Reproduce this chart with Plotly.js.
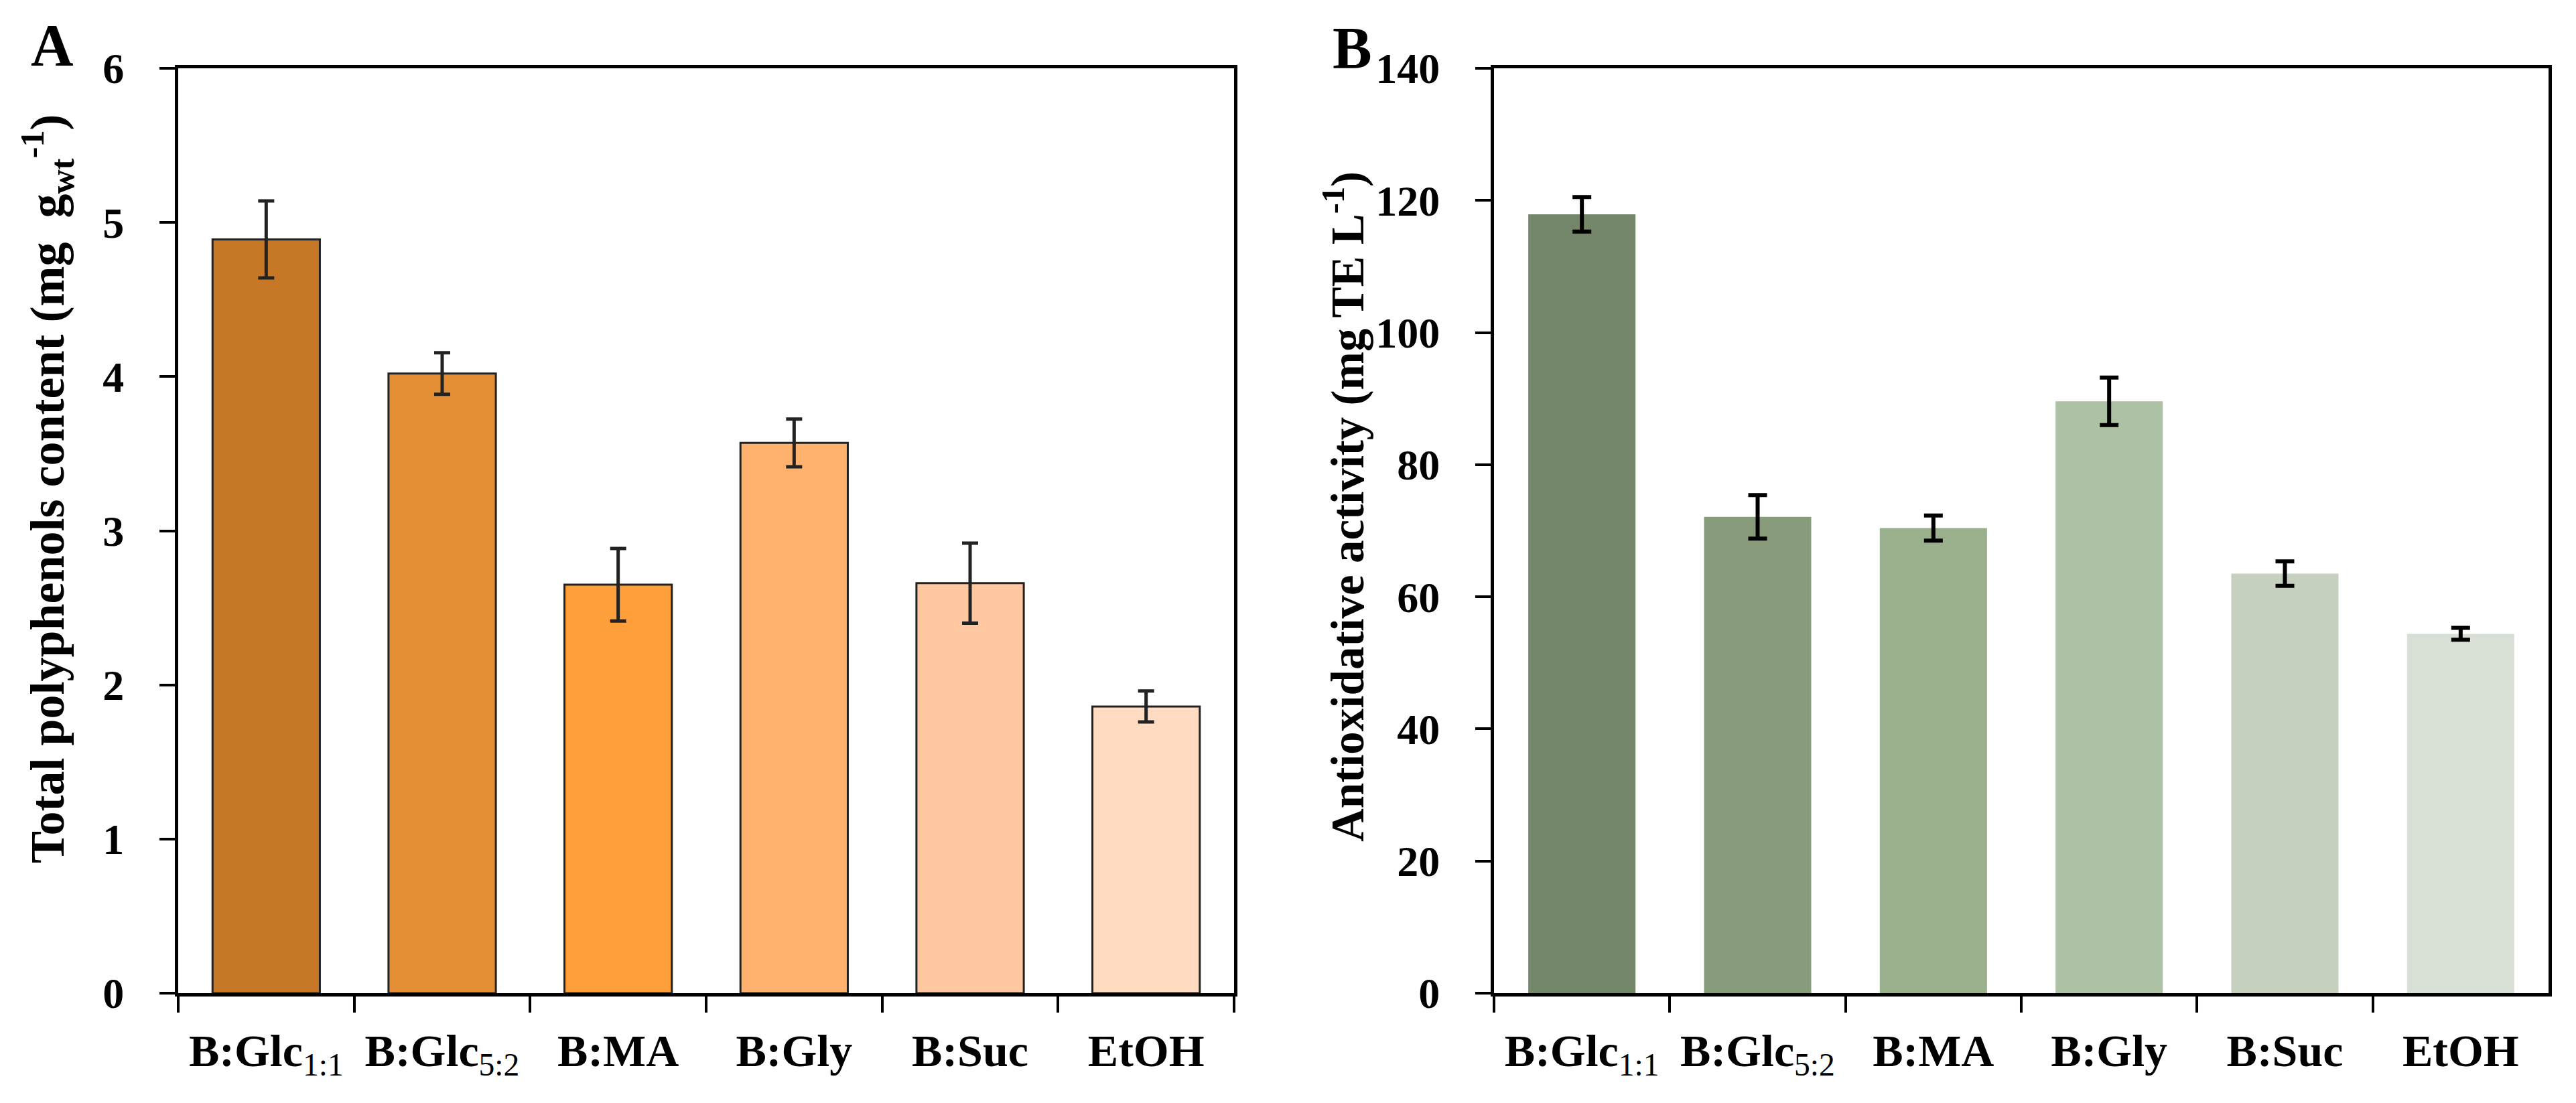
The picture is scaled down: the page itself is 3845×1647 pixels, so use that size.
<!DOCTYPE html>
<html>
<head>
<meta charset="utf-8">
<script src="https://cdn.plot.ly/plotly-3.0.1.min.js"></script>
<style>
  html, body { margin: 0; padding: 0; background: #fff; }
  #chart { width: 3845px; height: 1647px; }
</style>
</head>
<body>
<div id="chart"></div>
<script>
// categories shared by both panels
const categories = ["B:Glc 1:1", "B:Glc 5:2", "B:MA", "B:Gly", "B:Suc", "EtOH"];
const tickLabels = [
  "B:Glc<sub><span style='font-weight:normal'>1:1</span></sub>",
  "B:Glc<sub><span style='font-weight:normal'>5:2</span></sub>",
  "B:MA", "B:Gly", "B:Suc", "EtOH"
];

// panel A: total polyphenols content
const polyphenols = [4.89, 4.02, 2.65, 3.57, 2.66, 1.86];
const polyphenolsErr = [0.25, 0.135, 0.235, 0.155, 0.26, 0.10];
const colorsA = ["#C77826", "#E48F35", "#FF9F3C", "#FFB26D", "#FFC8A0", "#FFDBC2"];

// panel B: antioxidative activity
const antioxidative = [117.9, 72.1, 70.4, 89.6, 63.5, 54.4];
const antioxidativeErr = [2.6, 3.3, 1.9, 3.6, 1.85, 0.9];
const colorsB = ["#738669", "#889C7B", "#9AAF8B", "#ADC1A4", "#C5D1BE", "#D8E0D5"];

const FONT = "Liberation Serif, Times New Roman, serif";
const W = 3845, H = 1647;
const px = (x) => x / W;
const py = (y) => 1 - y / H;

const traces = [
  {
    type: "bar",
    x: categories,
    y: polyphenols,
    xaxis: "x",
    yaxis: "y",
    marker: { color: colorsA, line: { color: "#222", width: 3 } },
    error_y: { type: "data", array: polyphenolsErr, visible: true, color: "#222", thickness: 5, width: 12 },
    showlegend: false,
  },
  {
    type: "bar",
    x: categories,
    y: antioxidative,
    xaxis: "x2",
    yaxis: "y2",
    marker: { color: colorsB, line: { width: 0 } },
    error_y: { type: "data", array: antioxidativeErr, visible: true, color: "#000", thickness: 6, width: 14 },
    showlegend: false,
  },
];

const xBase = {
  type: "category",
  tickmode: "array",
  tickvals: categories,
  ticktext: tickLabels,
  tickson: "boundaries",
  ticks: "outside",
  ticklen: 24,
  tickwidth: 4,
  tickcolor: "#000",
  showline: true,
  linewidth: 5,
  linecolor: "#000",
  mirror: true,
  showgrid: false,
  zeroline: false,
  ticklabelstandoff: 22,
  tickfont: { family: FONT, size: 68, color: "#000", weight: "bold" },
  fixedrange: true,
};

const yBase = {
  ticks: "outside",
  ticklen: 23,
  tickwidth: 4,
  tickcolor: "#000",
  showline: true,
  linewidth: 5,
  linecolor: "#000",
  mirror: true,
  showgrid: false,
  zeroline: false,
  ticklabelstandoff: 40,
  tickfont: { family: FONT, size: 64, color: "#000", weight: "bold" },
  domain: [py(1483), py(102)],
  fixedrange: true,
};

const layout = {
  width: W,
  height: H,
  margin: { l: 0, r: 0, t: 0, b: 0 },
  paper_bgcolor: "#fff",
  plot_bgcolor: "#fff",
  bargap: 0.39,
  xaxis: { ...xBase, domain: [px(266), px(1842)], anchor: "y" },
  yaxis: { ...yBase, range: [0, 6], dtick: 1, anchor: "x" },
  xaxis2: { ...xBase, domain: [px(2230), px(3804)], anchor: "y2" },
  yaxis2: { ...yBase, range: [0, 140], dtick: 20, anchor: "x2" },
  annotations: [
    {
      text: "Total polyphenols content (mg  g<sub>wt</sub><sup>-1</sup>)",
      xref: "paper", yref: "paper", x: px(70), y: py(730),
      textangle: -90, showarrow: false, xanchor: "center", yanchor: "middle",
      font: { family: FONT, size: 72, color: "#000", weight: "bold" },
    },
    {
      text: "Antioxidative activity (mg TE L<sup>-1</sup>)",
      xref: "paper", yref: "paper", x: px(2006), y: py(757),
      textangle: -90, showarrow: false, xanchor: "center", yanchor: "middle",
      font: { family: FONT, size: 69, color: "#000", weight: "bold" },
    },
    {
      text: "A",
      xref: "paper", yref: "paper", x: px(78), y: py(67),
      showarrow: false, xanchor: "center", yanchor: "middle",
      font: { family: FONT, size: 88, color: "#000", weight: "bold" },
    },
    {
      text: "B",
      xref: "paper", yref: "paper", x: px(2018), y: py(71),
      showarrow: false, xanchor: "center", yanchor: "middle",
      font: { family: FONT, size: 88, color: "#000", weight: "bold" },
    },
  ],
};

Plotly.newPlot("chart", traces, layout, { displayModeBar: false, staticPlot: true });
</script>
</body>
</html>
